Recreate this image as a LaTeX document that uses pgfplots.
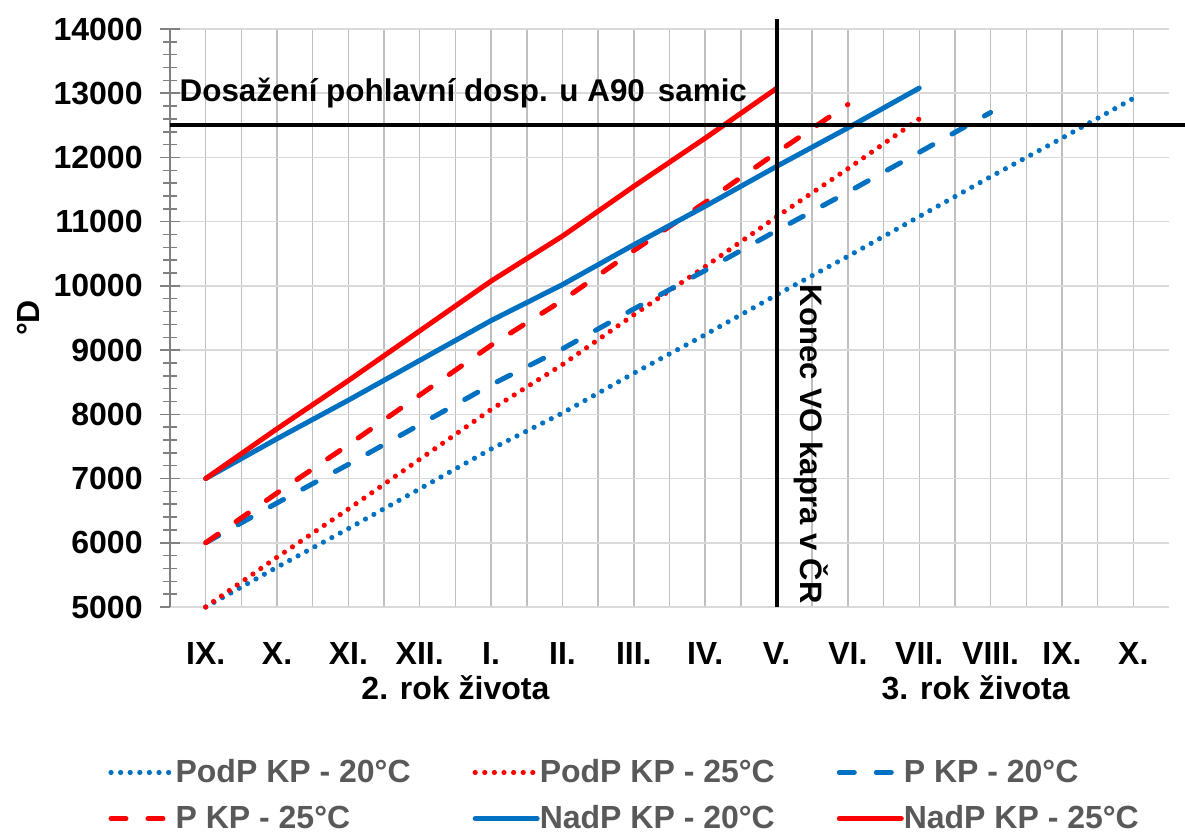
\documentclass[border=0pt]{standalone}
\usepackage{fontspec}
\setmainfont{Liberation Sans}
\usepackage{pgfplots}
\pgfplotsset{compat=1.18}
\definecolor{xblue}{RGB}{0,112,192}
\definecolor{xred}{RGB}{255,0,0}
\definecolor{gridv}{RGB}{191,191,191}
\definecolor{gridh}{RGB}{217,217,217}
\definecolor{legtext}{RGB}{89,89,89}
\newcommand{\f}{\fontsize{16}{19}\selectfont\bfseries}
\newcommand{\lt}[1]{\makebox[148.5pt][l]{#1}}
\tikzset{
  dotl/.style={line width=2.6pt, line cap=round, dash pattern=on 0pt off 4.8pt},
  dashl/.style={line width=2.5pt, line cap=round, dash pattern=on 7.5pt off 11pt},
  solidl/.style={line width=2.5pt, line cap=round, solid},
}
\begin{document}
\begin{tikzpicture}
\useasboundingbox (-85pt,-113pt) rectangle (507.5pt,303.5pt);
\begin{axis}[
  at={(0,0)}, anchor=south west,
  scale only axis, width=499.5pt, height=289pt,
  xmin=-0.5, xmax=13.5, ymin=5000, ymax=14000,
  xtick={0,...,13},
  xticklabels={IX.,X.,XI.,XII.,I.,II.,III.,IV.,V.,VI.,VII.,VIII.,IX.,X.},
  minor x tick num=1,
  ytick={5000,6000,...,14000},
  minor y tick num=4,
  xmajorgrids, xminorgrids, ymajorgrids,
  major x grid style={gridv, line width=0.75pt},
  minor x grid style={gridv, line width=0.75pt},
  major y grid style={gridh, line width=0.75pt},
  axis x line*=bottom, axis y line*=left,
  x axis line style={gridh, line width=0.75pt, -},
  y axis line style={black!50, line width=0.75pt, -},
  xtick style={draw=none},
  ytick style={black!50, line width=0.75pt},
  tick align=center,
  major tick length=10pt, minor tick length=7pt,
  yticklabel style={font=\f, anchor=east, inner sep=0pt, xshift=-8.5pt},
  xticklabel style={font=\f, anchor=base, inner sep=0pt, yshift=-24pt},
  /pgf/number format/assume math mode=true,
  /pgf/number format/set thousands separator={},
  scaled y ticks=false,
  clip=false,
  legend columns=3,
  legend style={at={(rel axis cs:0,0)}, anchor=north west, xshift=-31pt, yshift=-76pt,
    draw=none, fill=none, font=\f, text=legtext, column sep=0pt, row sep=10pt,
    inner sep=0pt, nodes={inner sep=0pt}},
  legend cell align=left,
  legend image code/.code={\draw[#1] (0pt,0pt) -- (31pt,0pt);},
]
\addplot[xblue, dotl] coordinates {(0,5000) (1,5620) (2,6220) (3,6840) (4,7460) (5,8020) (6,8640) (7,9240) (8,9860) (9,10460) (10,11080) (11,11700) (12,12300) (13,12920)};
\addlegendentry{\lt{PodP KP - 20°C}}
\addplot[xred, dotl] coordinates {(0,5000) (1,5775) (2,6525) (3,7300) (4,8075) (5,8775) (6,9550) (7,10300) (8,11075) (9,11825) (10,12600)};
\addlegendentry{\lt{PodP KP - 25°C}}
\addplot[xblue, dashl] coordinates {(0,6000) (1,6620) (2,7220) (3,7840) (4,8460) (5,9020) (6,9640) (7,10240) (8,10860) (9,11460) (10,12080) (11,12700)};
\addlegendentry{\lt{P KP - 20°C}}
\addplot[xred, dashl] coordinates {(0,6000) (1,6775) (2,7525) (3,8300) (4,9075) (5,9775) (6,10550) (7,11300) (8,12075) (9,12825)};
\addlegendentry{\lt{P KP - 25°C}}
\addplot[xblue, solidl] coordinates {(0,7000) (1,7620) (2,8220) (3,8840) (4,9460) (5,10020) (6,10640) (7,11240) (8,11860) (9,12460) (10,13080)};
\addlegendentry{\lt{NadP KP - 20°C}}
\addplot[xred, solidl] coordinates {(0,7000) (1,7775) (2,8525) (3,9300) (4,10075) (5,10775) (6,11550) (7,12300) (8,13075)};
\addlegendentry{NadP KP - 25°C}
\addplot[black, line width=2pt, forget plot] coordinates {(-0.5,12500) (13.72,12500)};
\addplot[black, line width=2pt, forget plot] coordinates {(8,5000) (8,14160)};
\node[font=\fontsize{15.7}{19}\selectfont\bfseries, anchor=base west, inner sep=0pt] at (axis cs:-0.37,12870) {Dosažení pohlavní dosp. u A90\hspace{6.5pt}samic};
\node[font=\fontsize{15.5}{19}\selectfont\bfseries, rotate=-90, anchor=base west, inner sep=0pt] at (axis cs:8.33,10020) {Konec VO kapra v ČR};
\node[font=\f, anchor=base, inner sep=0pt] at ([yshift=-46.5pt]axis cs:3.5,5000) {2. rok života};
\node[font=\f, anchor=base, inner sep=0pt] at ([yshift=-46.5pt]axis cs:10.79,5000) {3. rok života};
\node[font=\f, rotate=90, inner sep=0pt] at ([xshift=-71pt]rel axis cs:0,0.5) {°D};
\end{axis}
\end{tikzpicture}
\end{document}
